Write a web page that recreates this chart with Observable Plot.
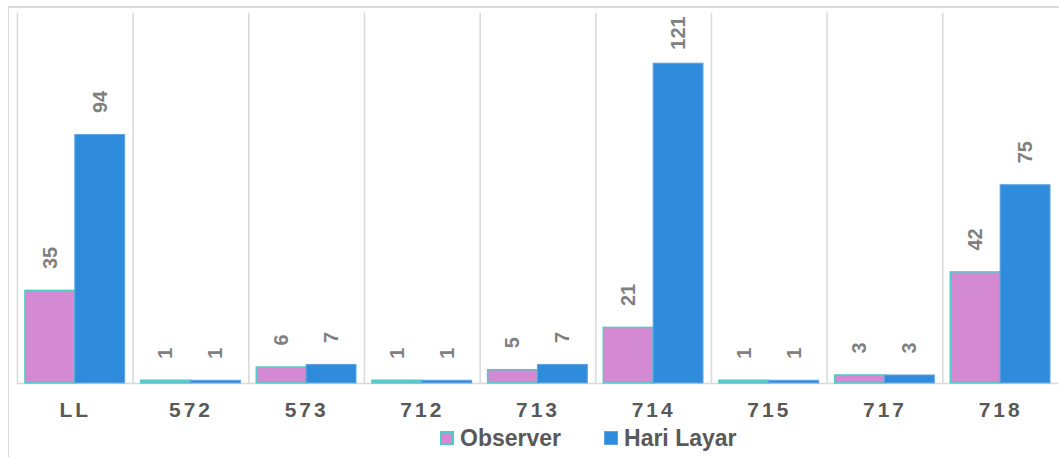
<!DOCTYPE html>
<html>
<head>
<meta charset="utf-8">
<script src="https://cdn.jsdelivr.net/npm/d3@7"></script>
<script src="https://cdn.jsdelivr.net/npm/@observablehq/plot@0.6"></script>
<style>
  html, body { margin: 0; padding: 0; background: #fff; overflow: hidden; }
  body { font-family: "Liberation Sans", Arial, sans-serif; }
  #wrap { position: relative; width: 1059px; height: 457px; overflow: hidden; }
  #border { position: absolute; left: 8px; top: 6px; width: 1200px; height: 600px;
            border-top: 2px solid #d9d9d9; border-left: 1.5px solid #d9d9d9; box-sizing: border-box; }
  #chart { position: absolute; left: 0; top: 0; }
  #chart svg [aria-label="fx-axis tick label"] text { letter-spacing: 3px; }
  #legend { position: absolute; left: 440px; top: 423px; height: 30px; line-height: 30px;
            display: flex; align-items: center; font-size: 23px; font-weight: bold; color: #595959; }
  .item { display: flex; align-items: center; }
  .sw { width: 14px; height: 14px; box-sizing: border-box; margin-right: 6px; }
</style>
</head>
<body>
<div id="wrap">
  <div id="border"></div>
  <div id="chart"></div>
  <div id="legend"></div>
</div>
<script>
const categories = ["LL", "572", "573", "712", "713", "714", "715", "717", "718"];
const series = ["Observer", "Hari Layar"];
const observer = [35, 1, 6, 1, 5, 21, 1, 3, 42];
const hariLayar = [94, 1, 7, 1, 7, 121, 1, 3, 75];

const fills = ["#d38ad2", "#2f8bdc"];
const strokes = ["#4ecbc6", "#5ea3e2"];
const labelCap = 118;

const rows = [];
categories.forEach((c, i) => {
  rows.push({category: c, series: series[0], value: observer[i]});
  rows.push({category: c, series: series[1], value: hariLayar[i]});
});

const chart = Plot.plot({
  width: 1062,
  height: 422,
  marginLeft: 17,
  marginRight: 1,
  marginTop: 13,
  marginBottom: 38,
  style: {fontFamily: "'Liberation Sans', Arial, sans-serif", background: "transparent", overflow: "visible"},
  fx: {domain: categories, padding: 0, label: null},
  x: {domain: series, paddingInner: 0, paddingOuter: 0.15, axis: null},
  y: {domain: [0, 140], axis: null},
  color: {domain: series, range: fills},
  marks: [
    Plot.frame({anchor: "left", stroke: "#d9d9d9", strokeWidth: 1.5}),
    Plot.ruleY([0], {stroke: "#d9d9d9", strokeWidth: 1.5}),
    Plot.barY(rows, {
      fx: "category", x: "series", y: "value",
      fill: "series",
      stroke: d => strokes[series.indexOf(d.series)],
      strokeWidth: d => d.series === series[0] ? 1.5 : 1
    }),
    Plot.text(rows, {
      fx: "category", x: "series", y: d => Math.min(d.value, labelCap),
      text: d => String(d.value),
      rotate: -90, textAnchor: "start", lineAnchor: "middle",
      dy: -22, fontSize: 20, fontWeight: "bold", fill: "#808080"
    }),
    Plot.axisFx({anchor: "bottom", tickSize: 0, tickPadding: 19, fontSize: 21, fontWeight: "bold", fill: "#595959", label: null})
  ]
});
document.getElementById("chart").appendChild(chart);

const legend = document.getElementById("legend");
series.forEach((s, i) => {
  const item = document.createElement("div");
  item.className = "item";
  if (i > 0) item.style.marginLeft = "43px";
  const sw = document.createElement("div");
  sw.className = "sw";
  sw.style.background = fills[i];
  sw.style.border = i === 0 ? `2px solid ${strokes[0]}` : `1px solid ${strokes[1]}`;
  const t = document.createElement("span");
  t.textContent = s;
  item.appendChild(sw);
  item.appendChild(t);
  legend.appendChild(item);
});
</script>
</body>
</html>
